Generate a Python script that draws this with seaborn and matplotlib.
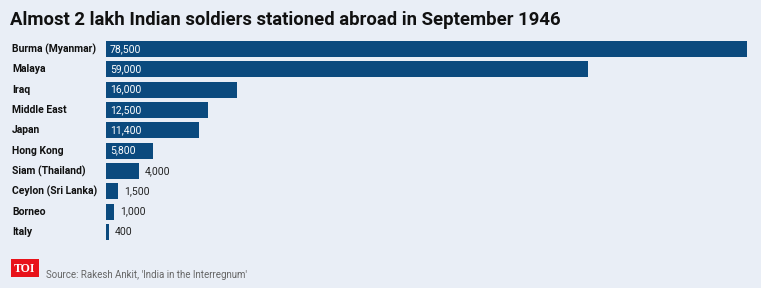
import matplotlib
matplotlib.use("Agg")
import matplotlib.pyplot as plt
import seaborn as sns
import pandas as pd
from matplotlib.patches import Rectangle

countries = ["Burma (Myanmar)", "Malaya", "Iraq", "Middle East", "Japan", "Hong Kong",
             "Siam (Thailand)", "Ceylon (Sri Lanka)", "Borneo", "Italy"]
soldiers = [78500, 59000, 16000, 12500, 11400, 5800, 4000, 1500, 1000, 400]
value_labels = ["78,500", "59,000", "16,000", "12,500", "11,400", "5,800", "4,000", "1,500", "1,000", "400"]

title = "Almost 2 lakh Indian soldiers stationed abroad in September 1946"
source = "Source: Rakesh Ankit, 'India in the Interregnum'"

bg = "#e9eef6"
bar_color = "#0b4a7e"

sns.set_theme(style="white")
narrow = ["Roboto", "DejaVu Sans"]
plt.rcParams["font.family"] = ["Roboto", "DejaVu Sans"]

df = pd.DataFrame({"country": countries, "soldiers": soldiers})

fig = plt.figure(figsize=(7.61, 2.88), dpi=100, facecolor=bg)
ax = fig.add_axes([106/761, 0.159, (747-106)/761, 0.8653-0.159])
ax.set_facecolor(bg)
sns.barplot(data=df, x="soldiers", y="country", color=bar_color, saturation=1,
            width=0.8, ax=ax, orient="h", linewidth=0, edgecolor="none")
ax.set_xlim(0, 78500)
ax.set_ylim(9.5, -0.5)
for s in ax.spines.values():
    s.set_visible(False)
ax.set_xticks([])
ax.set_yticks([])
ax.set_xlabel("")
ax.set_ylabel("")

for i, (c, v, lab) in enumerate(zip(countries, soldiers, value_labels)):
    ax.text(-94/641*78500, i, c, ha="left", va="center", fontsize=7.5,
            fontweight="bold", family=narrow, color="#111111")
    if v > 5000:
        ax.text(500, i, lab, ha="left", va="center", fontsize=7.5,
                family=narrow, color="white")
    else:
        ax.text(v + 700, i, lab, ha="left", va="center", fontsize=7.5,
                family=narrow, color="#222222")

fig.text(10/761, 1-20/288, title, ha="left", va="center", fontsize=13.3,
         fontweight="bold", family=narrow, color="#111111")

fig.patches.append(Rectangle((11/761, 1-277/288), 28/761, 18/288,
                             transform=fig.transFigure, facecolor="#e8121a",
                             edgecolor="none"))
fig.text(25/761, 1-268.5/288, "TOI", ha="center", va="center", fontsize=8.5,
         fontweight="bold", family=["Liberation Serif", "DejaVu Serif"], color="white")
fig.text(46/761, 1-275/288, source, ha="left", va="center", fontsize=7,
         family=narrow, color="#666666")

fig.savefig("out.png", dpi=100, facecolor=bg)
